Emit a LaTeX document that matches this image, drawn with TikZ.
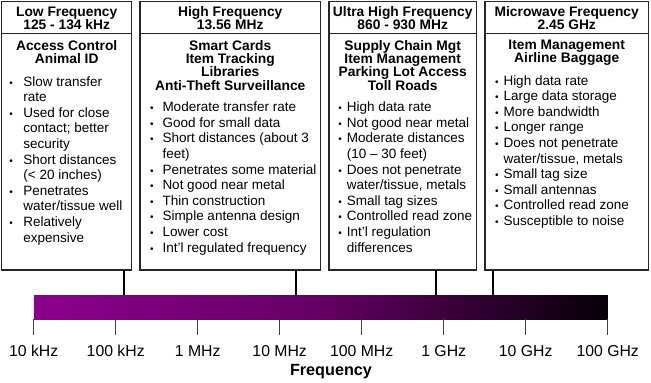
\documentclass[tikz,border=0pt]{standalone}
\usepackage{fontspec}
\setmainfont{Liberation Sans}
\usetikzlibrary{positioning}

\definecolor{bandleft}{RGB}{140,0,140}
\definecolor{bandmid}{RGB}{100,0,100}
\definecolor{bandright}{RGB}{6,0,6}

\begin{document}
\begin{tikzpicture}[
    x=1pt, y=-1pt,
    font=\fontsize{13.5}{15.6}\selectfont,
    boxline/.style={draw=black!85, line width=1.3pt},
    headtext/.style={font={\fontsize{13.8}{13}\selectfont\bfseries\lineskiplimit=-20pt}, align=center, anchor=north, inner sep=0pt},
    usetext/.style={font={\fontsize{13.8}{13.3}\selectfont\bfseries\lineskiplimit=-20pt}, align=center, anchor=north, inner sep=0pt},
    listtext/.style={anchor=base west, inner sep=0pt},
    tieline/.style={draw=black, line width=2.2pt},
    tickline/.style={draw=black!75, line width=1pt},
    ticktext/.style={font=\fontsize{15.8}{16}\selectfont, anchor=base, inner sep=0pt},
    ]
    \useasboundingbox (0,0) rectangle (651,383);

    % Define a macro to draw each frequency band box
    \newcommand{\bandbox}[6]{
        % Outline and header rule
        \draw[boxline] (#2,1.5) rectangle (#3,270);
        \draw[boxline] (#2,33.3) -- (#3,33.3);
        % Header and applications
        \node[headtext] (#1-head) at ({(#2+#3)/2},6.6) {#5};
        \node[usetext] (#1-use) at ({(#2+#3)/2},39.9) {#6};
        % Anchor coordinate for the connector
        \coordinate (#1-foot) at (#4,270);
    }
    \newcommand{\listdot}{{\fontsize{10}{10}\selectfont\textbullet}}

    % ==========================================
    % Draw Band Boxes
    % ==========================================
    \bandbox{lf}{1.7}{131.7}{124}{Low Frequency\\125 - 134 kHz}{Access Control\\Animal ID}
    \bandbox{hf}{140}{320.5}{296}{High Frequency\\13.56 MHz}{Smart Cards\\Item Tracking\\Libraries\\Anti-Theft Surveillance}
    \bandbox{uhf}{329}{476.5}{435.7}{Ultra High Frequency\\860 - 930 MHz}{Supply Chain Mgt\\Item Management\\Parking Lot Access\\Toll Roads}
    \bandbox{mw}{485}{648.5}{492.7}{Microwave Frequency\\2.45 GHz}{Item Management\\Airline Baggage}

    % ==========================================
    % Draw Bullet Lists
    % ==========================================
    \node[listtext] (lf-list) at (9.25,86) {\begin{tabular}[t]{@{}c@{\hspace{10.5pt}}l@{}}
        \listdot & Slow transfer\\
                 & rate\\
        \listdot & Used for close\\
                 & contact; better\\
                 & security\\
        \listdot & Short distances\\
                 & (< 20 inches)\\
        \listdot & Penetrates\\
                 & water/tissue well\\
        \listdot & Relatively\\
                 & expensive
    \end{tabular}};

    \node[listtext] (hf-list) at (149.95,111.7) {\begin{tabular}[t]{@{}c@{\hspace{8.85pt}}l@{}}
        \listdot & Moderate transfer rate\\
        \listdot & Good for small data\\
        \listdot & Short distances (about 3\\
                 & feet)\\
        \listdot & Penetrates some material\\
        \listdot & Not good near metal\\
        \listdot & Thin construction\\
        \listdot & Simple antenna design\\
        \listdot & Lower cost\\
        \listdot & Int'l regulated frequency
    \end{tabular}};

    \node[listtext] (uhf-list) at (338.25,111.7) {\begin{tabular}[t]{@{}c@{\hspace{4.95pt}}l@{}}
        \listdot & High data rate\\
        \listdot & Not good near metal\\
        \listdot & Moderate distances\\
                 & (10 -- 30 feet)\\
        \listdot & Does not penetrate\\
                 & water/tissue, metals\\
        \listdot & Small tag sizes\\
        \listdot & Controlled read zone\\
        \listdot & Int'l regulation\\
                 & differences
    \end{tabular}};

    \node[listtext] (mw-list) at (494.95,85) {\begin{tabular}[t]{@{}c@{\hspace{4.85pt}}l@{}}
        \listdot & High data rate\\
        \listdot & Large data storage\\
        \listdot & More bandwidth\\
        \listdot & Longer range\\
        \listdot & Does not penetrate\\
                 & water/tissue, metals\\
        \listdot & Small tag size\\
        \listdot & Small antennas\\
        \listdot & Controlled read zone\\
        \listdot & Susceptible to noise
    \end{tabular}};

    % ==========================================
    % Draw Frequency Bar and Scale
    % ==========================================
    \node[anchor=north west, minimum width=574pt, minimum height=24.3pt, inner sep=0pt,
          left color=bandleft, right color=bandright, middle color=bandmid] (band) at (33.7,295) {};

    \foreach \lbl [count=\i from 0] in {10 kHz, 100 kHz, 1 MHz, 10 MHz, 100 MHz, 1 GHz, 10 GHz, 100 GHz}
    {
        \coordinate (tick-\i) at ({33.7+82*\i},319.3);
        \draw[tickline] (tick-\i) -- ++(0,15.7);
        \node[ticktext] (scale-\i) at ({33.7+82*\i},356.5) {\lbl};
    }

    \node[font=\fontsize{16.2}{17}\selectfont\bfseries, anchor=base, inner sep=0pt] (axis-title) at (331,375) {Frequency};

    % ==========================================
    % Draw Connectors Between Boxes and Bar
    % ==========================================
    \draw[tieline] (lf-foot) -- (lf-foot |- band.north);
    \draw[tieline] (hf-foot) -- (hf-foot |- band.north);
    \draw[tieline] (uhf-foot) -- (uhf-foot |- band.north);
    \draw[tieline] (mw-foot) -- (mw-foot |- band.north);

\end{tikzpicture}
\end{document}
